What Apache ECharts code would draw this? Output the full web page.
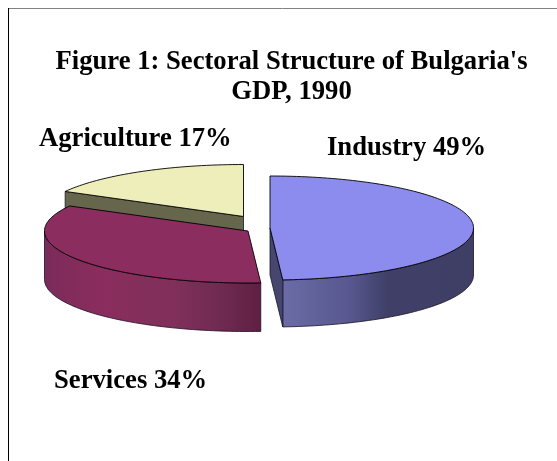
<!DOCTYPE html>
<html>
<head>
<meta charset="utf-8">
<style>html,body{margin:0;padding:0;background:#fff}#chart{width:557px;height:461px}</style>
<script src="https://cdn.jsdelivr.net/npm/echarts@6/dist/echarts.min.js"></script>
</head>
<body>
<div id="chart"></div>
<script>
// GDP shares by sector, percent
const categories = ['Industry', 'Services', 'Agriculture'];
const shares = [49, 34, 17];
const titleLines = ["Figure 1: Sectoral Structure of Bulgaria's", 'GDP, 1990'];

// Tilted-disc geometry and per-slice placement
const disc = { rx: 203.5, ry: 52 };
const sliceDepths = [47, 48.5, 47];
const sliceCentres = [[270, 228], [248, 231], [243.5, 216.5]];
const labelAnchors = [[327, 148], [54, 381], [39, 139]];
const paintOrder = [2, 1, 0];

const topColours = ['#8c8cee', '#8b2d5e', '#eeeebb'];
const wallColours = ['#46466f', '#5f1f42', '#66664c'];
const sideStops = [
  [[0, '#6b6ba6'], [0.35, '#58588f'], [0.55, '#3f3f68'], [1, '#3f3f66']],
  [[0, '#7a2b5a'], [0.25, '#8a2d5e'], [0.6, '#80305a'], [0.82, '#6f2a50'], [1, '#5f1f42']],
  [[0, '#66664c'], [1, '#66664c']]
];

const total = shares.reduce((a, b) => a + b, 0);
const rad = d => d * Math.PI / 180;
const fracStart = shares.map((_, i) => shares.slice(0, i).reduce((a, b) => a + b, 0) / total);

function rim(c, deg, drop) {
  return [c[0] + disc.rx * Math.sin(rad(deg)), c[1] - disc.ry * Math.cos(rad(deg)) + drop];
}
function arc(c, from, to, drop) {
  const pts = [];
  const n = Math.max(2, Math.ceil(Math.abs(to - from) / 1.5));
  for (let i = 0; i <= n; i++) pts.push(rim(c, from + (to - from) * i / n, drop));
  return pts;
}
function wall(c, deg, depth, colour, z2) {
  const p = rim(c, deg, 0);
  return {
    type: 'polygon', z2,
    shape: { points: [c, p, [p[0], p[1] + depth], [c[0], c[1] + depth]] },
    style: { fill: colour, stroke: '#15152a', lineWidth: 0.8 }
  };
}

function renderSlice(params, api) {
  const i = params.dataIndex;
  const value = api.value(0);
  const c = sliceCentres[i];
  const depth = sliceDepths[i];
  const a0 = fracStart[i] * 360;
  const a1 = a0 + value / total * 360;
  const z = paintOrder[i] * 10;
  const children = [];

  // Outer rim: only the part facing the viewer, 90 to 270 degrees
  const f0 = Math.max(a0, 90), f1 = Math.min(a1, 270);
  if (f1 > f0) {
    children.push({
      type: 'polygon', z2: z,
      shape: { points: arc(c, f0, f1, 0).concat(arc(c, f1, f0, depth)) },
      style: {
        fill: new echarts.graphic.LinearGradient(0, 0, 1, 0,
          sideStops[i].map(s => ({ offset: s[0], color: s[1] }))),
        stroke: '#1c1226', lineWidth: 0.8
      }
    });
  }
  // Cut faces appear when the slice body lies above the radial edge
  if (Math.sin(rad(a1)) > 1e-6) children.push(wall(c, a1, depth, wallColours[i], z + 1));
  if (Math.sin(rad(a0)) < -1e-6) children.push(wall(c, a0, depth, wallColours[i], z + 1));

  children.push({
    type: 'polygon', z2: z + 2,
    shape: { points: [c].concat(arc(c, a0, a1, 0)) },
    style: { fill: topColours[i], stroke: '#000', lineWidth: 0.9 }
  });
  children.push({
    type: 'text', z2: 100,
    style: {
      x: labelAnchors[i][0], y: labelAnchors[i][1],
      text: categories[i] + ' ' + value + '%',
      fill: '#000', align: 'left', verticalAlign: 'middle',
      font: 'bold 26.67px "Liberation Serif", serif'
    }
  });
  return { type: 'group', children };
}

const chart = echarts.init(document.getElementById('chart'), null, { renderer: 'canvas' });
chart.setOption({
  animation: false,
  backgroundColor: '#fff',
  title: {
    text: titleLines.join('\n'),
    left: 286.5, top: 42, textAlign: 'center',
    textStyle: { fontFamily: '"Liberation Serif", serif', fontWeight: 'bold', fontSize: 26.67, lineHeight: 30, color: '#000' }
  },
  graphic: [
    { type: 'line', shape: { x1: 8, y1: 8.5, x2: 557, y2: 8.5 }, style: { stroke: '#808080', lineWidth: 1 } },
    { type: 'line', shape: { x1: 8.5, y1: 8, x2: 8.5, y2: 461 }, style: { stroke: '#000', lineWidth: 1 } }
  ],
  series: [{
    type: 'custom',
    coordinateSystem: 'none',
    clip: false,
    data: shares.map((v, i) => ({ name: categories[i], value: [v] })),
    renderItem: renderSlice
  }]
});
</script>
</body>
</html>
